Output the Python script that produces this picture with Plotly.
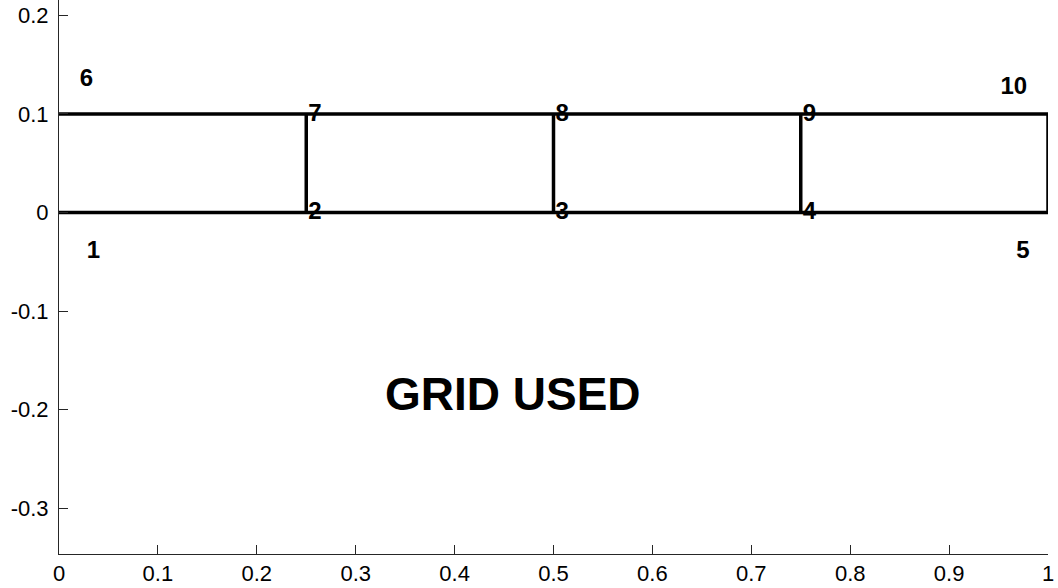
import plotly.graph_objects as go

# Grid geometry (data units)
h_line_y = [0.0, 0.1]          # horizontal grid lines
h_line_x = [0.0, 1.0]          # extent of horizontal lines
v_line_x = [0.25, 0.5, 0.75, 1.0]  # vertical grid lines
v_line_y = [0.0, 0.1]

# Node labels and their anchor positions
node_labels = ["1", "2", "3", "4", "5", "6", "7", "8", "9", "10"]
node_label_x = [0.028, 0.252, 0.502, 0.752, 0.968, 0.021, 0.252, 0.502, 0.752, 0.952]
node_label_y = [-0.040, 0.0, 0.0, 0.0, -0.040, 0.134, 0.099, 0.099, 0.099, 0.126]

title_text = "GRID USED"
title_x = 0.459
title_y = -0.1845

x_tick_vals = [0, 0.1, 0.2, 0.3, 0.4, 0.5, 0.6, 0.7, 0.8, 0.9, 1.0]
x_tick_text = ["0", "0.1", "0.2", "0.3", "0.4", "0.5", "0.6", "0.7", "0.8", "0.9", "1"]
y_tick_vals = [-0.3, -0.2, -0.1, 0.0, 0.1, 0.2]
y_tick_text = ["-0.3", "-0.2", "-0.1", "0", "0.1", "0.2"]

x_range = [0.0, 1.0]
y_range = [-0.3463, 0.2156]

fig = go.Figure()

for yy in h_line_y:
    fig.add_trace(go.Scatter(x=h_line_x, y=[yy, yy], mode="lines",
                             line=dict(color="black", width=3.5),
                             showlegend=False, hoverinfo="skip"))
for xx in v_line_x:
    fig.add_trace(go.Scatter(x=[xx, xx], y=v_line_y, mode="lines",
                             line=dict(color="black", width=3.5),
                             showlegend=False, hoverinfo="skip"))

fig.add_trace(go.Scatter(x=node_label_x, y=node_label_y, mode="text",
                         text=node_labels, textposition="middle right",
                         textfont=dict(family="Liberation Sans", size=24, color="black",
                                       weight="bold"),
                         showlegend=False, hoverinfo="skip", cliponaxis=False))

fig.add_annotation(x=title_x, y=title_y, text="<b>" + title_text + "</b>",
                   showarrow=False, xanchor="center", yanchor="middle",
                   font=dict(family="Liberation Sans", size=46, color="black"))

axis_common = dict(showgrid=False, zeroline=False, showline=True, linecolor="#262626",
                   linewidth=1, ticks="inside", ticklen=9, tickcolor="#262626",
                   tickfont=dict(family="Liberation Sans", size=22, color="black"),
                   mirror=False, automargin=False)

fig.update_xaxes(range=x_range, tickvals=x_tick_vals, ticktext=x_tick_text,
                 ticklabelstandoff=0, **axis_common)
fig.update_yaxes(range=y_range, tickvals=y_tick_vals, ticktext=y_tick_text,
                 ticklabelstandoff=5, **axis_common)

fig.update_layout(width=1058, height=588,
                  margin=dict(l=59, r=10, t=0, b=34),
                  plot_bgcolor="white", paper_bgcolor="white")

fig.write_html("out.html", config={"displayModeBar": False},
               post_script="document.body.style.margin='0';document.body.style.overflow='hidden';")
